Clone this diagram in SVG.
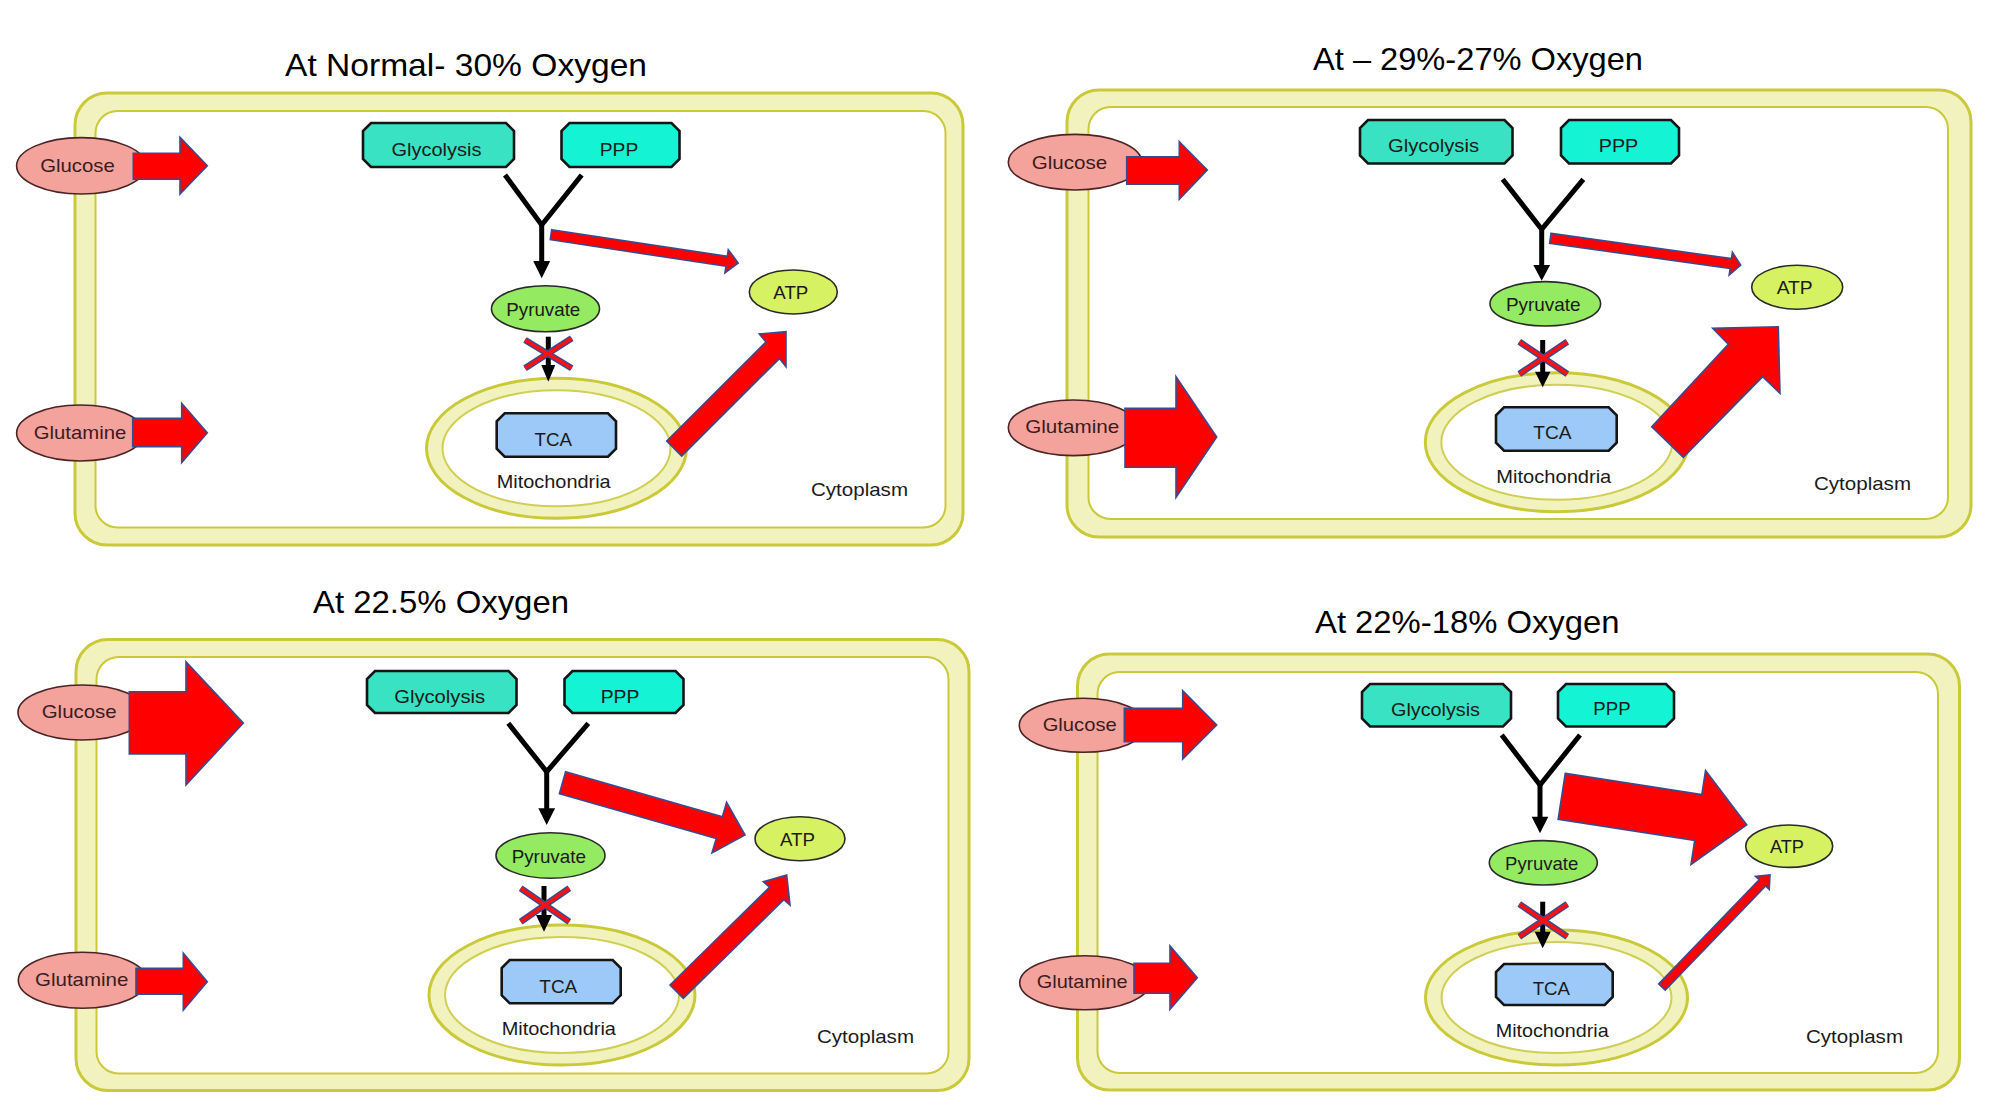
<svg xmlns="http://www.w3.org/2000/svg" width="1999" height="1112" viewBox="0 0 1999 1112">
<style>
.bg{fill:#fff}
.cellO{fill:#f2f2be;stroke:#c9c93a;stroke-width:3}
.cellI{fill:#fff;stroke:#c9c93a;stroke-width:2}
.mitoO{fill:#f2f2be;stroke:#c9c93a;stroke-width:3}
.mitoI{fill:#fff;stroke:#cfcf55;stroke-width:2}
.sub{fill:#f4a29c;stroke:#4a2424;stroke-width:1.6}
.glyc{fill:#38e2c2;stroke:#151515;stroke-width:2.6}
.ppp{fill:#14f3d3;stroke:#151515;stroke-width:2.6}
.tca{fill:#9cc9f7;stroke:#151515;stroke-width:2.6}
.pyr{fill:#94ea60;stroke:#2a2a2a;stroke-width:1.6}
.atp{fill:#d6f262;stroke:#2a2a2a;stroke-width:1.6}
.red{fill:#ff0000;stroke:#3b4a8f;stroke-width:1.6;stroke-linejoin:miter}
.blk{fill:none;stroke:#000;stroke-width:5}
.ah{fill:#000}
.xo{stroke:#3b4a8f;stroke-width:6.5}
.xi{stroke:#ff1010;stroke-width:3.6}
.lbl{font-family:"Liberation Sans",Arial,sans-serif;font-size:18.5px;fill:#1a1a1a;text-anchor:middle}
.sl{font-family:"Liberation Sans",Arial,sans-serif;font-size:18.5px;fill:#3a1c1c;text-anchor:middle}
.cy{font-family:"Liberation Sans",Arial,sans-serif;font-size:18.5px;fill:#1a1a1a}
.title{font-family:"Liberation Sans",Arial,sans-serif;font-size:32px;fill:#000}
</style>
<rect class="bg" x="0" y="0" width="1999" height="1112"/>

<!-- ================= PANEL 1 ================= -->
<g id="panel1">
<text class="title" x="285" y="76" textLength="362" lengthAdjust="spacingAndGlyphs">At Normal- 30% Oxygen</text>
<g id="p1-cell">
<rect class="cellO" x="75" y="93" width="888" height="452" rx="32"/>
<rect class="cellI" x="95.5" y="111" width="850" height="416.5" rx="22"/>
<text class="cy" x="811" y="496" textLength="97" lengthAdjust="spacingAndGlyphs">Cytoplasm</text>
</g>
<g id="p1-mito">
<ellipse class="mitoO" cx="556.5" cy="448.3" rx="130" ry="70"/>
<ellipse class="mitoI" cx="556.5" cy="448.3" rx="114" ry="58"/>
<text class="lbl" x="553.7" y="488.3" textLength="114" lengthAdjust="spacingAndGlyphs">Mitochondria</text>
</g>
<g id="p1-glucose">
<ellipse class="sub" cx="81.3" cy="165.8" rx="64.7" ry="28.2"/>
<text class="sl" x="77.5" y="171.7" textLength="74.5" lengthAdjust="spacingAndGlyphs">Glucose</text>
</g>
<g id="p1-glutamine">
<ellipse class="sub" cx="80.3" cy="433" rx="63.7" ry="28"/>
<text class="sl" x="80" y="439.3" textLength="92.5" lengthAdjust="spacingAndGlyphs">Glutamine</text>
</g>
<g id="p1-glycolysis">
<polygon class="glyc" points="371,123 506,123 514,131 514,159 506,167 371,167 363,159 363,131"/>
<text class="lbl" x="436.5" y="155.5" textLength="90" lengthAdjust="spacingAndGlyphs">Glycolysis</text>
</g>
<g id="p1-ppp">
<polygon class="ppp" points="569.5,123 671.5,123 679.5,131 679.5,159 671.5,167 569.5,167 561.5,159 561.5,131"/>
<text class="lbl" x="619" y="155.5" textLength="38.5" lengthAdjust="spacingAndGlyphs">PPP</text>
</g>
<g id="p1-pyruvate">
<ellipse class="pyr" cx="545.5" cy="308.8" rx="54" ry="23"/>
<text class="lbl" x="543.3" y="316" textLength="74" lengthAdjust="spacingAndGlyphs">Pyruvate</text>
</g>
<g id="p1-atp">
<ellipse class="atp" cx="793.3" cy="292" rx="44" ry="22"/>
<text class="lbl" x="790.8" y="299.3" textLength="35" lengthAdjust="spacingAndGlyphs">ATP</text>
</g>
<g id="p1-tca">
<polygon class="tca" points="504.7,413.3 608,413.3 616,421.3 616,448.7 608,456.7 504.7,456.7 496.7,448.7 496.7,421.3"/>
<text class="lbl" x="553.3" y="446" textLength="37.5" lengthAdjust="spacingAndGlyphs">TCA</text>
</g>
<g id="p1-connectors">
<polygon class="red" points="133.3,153.3 180,153.3 180,137.3 207.3,165.7 180,194 180,179.3 133.3,179.3"/>
<polygon class="red" points="132.7,418.3 181.7,418.3 181.7,403.3 207.3,432.7 181.7,462.7 181.7,446.7 132.7,446.7"/>
<polyline class="blk" points="505,175 541.7,225 581.7,175"/>
<line class="blk" x1="541.7" y1="224" x2="541.7" y2="262"/>
<polygon class="ah" points="533.2,261 550.2,261 541.7,278.3"/>
<polygon class="red" points="551.7,229.7 727.3,256.3 728.3,249.7 738.2,263 724.9,272.9 726,266.3 550.3,239.7"/>
<line class="blk" x1="548.3" y1="336.7" x2="548.3" y2="366"/>
<polygon class="ah" points="541.3,365 555.3,365 548.3,381.7"/>
<g id="p1-block">
<line class="xo" x1="525" y1="340" x2="571.7" y2="368.3"/>
<line class="xo" x1="571.7" y1="338.3" x2="525" y2="368.3"/>
<line class="xi" x1="525" y1="340" x2="571.7" y2="368.3"/>
<line class="xi" x1="571.7" y1="338.3" x2="525" y2="368.3"/>
</g>
<polygon class="red" points="666.7,441 765.9,342.1 759.3,334 786,331.7 786,366.7 779.4,358.6 681.7,456"/>
</g>
</g>

<!-- ================= PANEL 2 ================= -->
<g id="panel2">
<text class="title" x="1313" y="70" textLength="330" lengthAdjust="spacingAndGlyphs">At – 29%-27% Oxygen</text>
<g id="p2-cell">
<rect class="cellO" x="1067" y="90" width="904" height="447" rx="32"/>
<rect class="cellI" x="1088.5" y="107" width="859.5" height="412" rx="22"/>
<text class="cy" x="1814" y="489.5" textLength="97" lengthAdjust="spacingAndGlyphs">Cytoplasm</text>
</g>
<g id="p2-mito">
<ellipse class="mitoO" cx="1556.8" cy="442.2" rx="131.5" ry="69.5"/>
<ellipse class="mitoI" cx="1556.8" cy="442.2" rx="115.5" ry="57.5"/>
<text class="lbl" x="1553.8" y="482.7" textLength="115" lengthAdjust="spacingAndGlyphs">Mitochondria</text>
</g>
<g id="p2-glucose">
<ellipse class="sub" cx="1075" cy="162.2" rx="66.7" ry="27.8"/>
<text class="sl" x="1069.5" y="168.7" textLength="75.5" lengthAdjust="spacingAndGlyphs">Glucose</text>
</g>
<g id="p2-glutamine">
<ellipse class="sub" cx="1073.3" cy="427.8" rx="65" ry="27.8"/>
<text class="sl" x="1072.2" y="433.3" textLength="94" lengthAdjust="spacingAndGlyphs">Glutamine</text>
</g>
<g id="p2-glycolysis">
<polygon class="glyc" points="1368,120 1504.5,120 1512.5,128 1512.5,155.5 1504.5,163.5 1368,163.5 1360,155.5 1360,128"/>
<text class="lbl" x="1433.5" y="151.7" textLength="91" lengthAdjust="spacingAndGlyphs">Glycolysis</text>
</g>
<g id="p2-ppp">
<polygon class="ppp" points="1569,120 1671,120 1679,128 1679,155.5 1671,163.5 1569,163.5 1561,155.5 1561,128"/>
<text class="lbl" x="1618.5" y="151.7" textLength="39.5" lengthAdjust="spacingAndGlyphs">PPP</text>
</g>
<g id="p2-pyruvate">
<ellipse class="pyr" cx="1545.3" cy="303.8" rx="55.3" ry="22.2"/>
<text class="lbl" x="1543.3" y="310.7" textLength="74.7" lengthAdjust="spacingAndGlyphs">Pyruvate</text>
</g>
<g id="p2-atp">
<ellipse class="atp" cx="1797.2" cy="287.2" rx="45.5" ry="22"/>
<text class="lbl" x="1794.7" y="294" textLength="36" lengthAdjust="spacingAndGlyphs">ATP</text>
</g>
<g id="p2-tca">
<polygon class="tca" points="1504,407.3 1608.7,407.3 1616.7,415.3 1616.7,442.7 1608.7,450.7 1504,450.7 1496,442.7 1496,415.3"/>
<text class="lbl" x="1552.5" y="439.3" textLength="38.3" lengthAdjust="spacingAndGlyphs">TCA</text>
</g>
<g id="p2-connectors">
<polygon class="red" points="1126.7,156.7 1179.3,156.7 1179.3,141.7 1207.3,170 1179.3,199.3 1179.3,184.3 1126.7,184.3"/>
<polygon class="red" points="1125,408.3 1176,408.3 1176,376.7 1216.7,437 1176,497.3 1176,467.3 1125,467.3"/>
<polyline class="blk" points="1502.7,179.3 1541.7,229.3 1583.3,179.3"/>
<line class="blk" x1="1541.7" y1="228" x2="1541.7" y2="266"/>
<polygon class="ah" points="1533.3,265 1550.1,265 1541.7,280.7"/>
<polygon class="red" points="1551,233.35 1731.5,258.65 1732.4,252.2 1740.7,265 1729.2,275 1730.1,268.55 1549.6,243.25"/>
<line class="blk" x1="1542.7" y1="340" x2="1542.7" y2="373"/>
<polygon class="ah" points="1535,371.7 1550.4,371.7 1542.7,387.3"/>
<g id="p2-block">
<line class="xo" x1="1519.3" y1="341.7" x2="1567.3" y2="374"/>
<line class="xo" x1="1567.3" y1="341.7" x2="1519.3" y2="374"/>
<line class="xi" x1="1519.3" y1="341.7" x2="1567.3" y2="374"/>
<line class="xi" x1="1567.3" y1="341.7" x2="1519.3" y2="374"/>
</g>
<polygon class="red" points="1651.7,426.7 1728.3,344.3 1712.7,328.3 1778.3,326.7 1780,393.3 1762.7,376.7 1683.3,457.3"/>
</g>
</g>

<!-- ================= PANEL 3 ================= -->
<g id="panel3">
<text class="title" x="313" y="613" textLength="256" lengthAdjust="spacingAndGlyphs">At 22.5% Oxygen</text>
<g id="p3-cell">
<rect class="cellO" x="76" y="639.5" width="893" height="451" rx="32"/>
<rect class="cellI" x="96.5" y="657" width="852" height="416.5" rx="22"/>
<text class="cy" x="817" y="1043" textLength="97" lengthAdjust="spacingAndGlyphs">Cytoplasm</text>
</g>
<g id="p3-mito">
<ellipse class="mitoO" cx="562" cy="995" rx="133" ry="70"/>
<ellipse class="mitoI" cx="562" cy="995" rx="117" ry="58"/>
<text class="lbl" x="558.8" y="1035" textLength="114.3" lengthAdjust="spacingAndGlyphs">Mitochondria</text>
</g>
<g id="p3-glucose">
<ellipse class="sub" cx="82" cy="712.5" rx="64" ry="27.5"/>
<text class="sl" x="79.2" y="718.3" textLength="75" lengthAdjust="spacingAndGlyphs">Glucose</text>
</g>
<g id="p3-glutamine">
<ellipse class="sub" cx="82.5" cy="980.3" rx="64.2" ry="28"/>
<text class="sl" x="81.7" y="986" textLength="93.3" lengthAdjust="spacingAndGlyphs">Glutamine</text>
</g>
<g id="p3-glycolysis">
<polygon class="glyc" points="375,671 508.5,671 516.5,679 516.5,705 508.5,713 375,713 367,705 367,679"/>
<text class="lbl" x="439.7" y="702.7" textLength="91" lengthAdjust="spacingAndGlyphs">Glycolysis</text>
</g>
<g id="p3-ppp">
<polygon class="ppp" points="572.5,671 675.5,671 683.5,679 683.5,705 675.5,713 572.5,713 564.5,705 564.5,679"/>
<text class="lbl" x="620" y="702.7" textLength="38.7" lengthAdjust="spacingAndGlyphs">PPP</text>
</g>
<g id="p3-pyruvate">
<ellipse class="pyr" cx="550.5" cy="855.5" rx="54.5" ry="22.8"/>
<text class="lbl" x="548.8" y="862.7" textLength="74.3" lengthAdjust="spacingAndGlyphs">Pyruvate</text>
</g>
<g id="p3-atp">
<ellipse class="atp" cx="800" cy="838.7" rx="45" ry="22"/>
<text class="lbl" x="797.5" y="846" textLength="35" lengthAdjust="spacingAndGlyphs">ATP</text>
</g>
<g id="p3-tca">
<polygon class="tca" points="509.7,960 612.7,960 620.7,968 620.7,995.3 612.7,1003.3 509.7,1003.3 501.7,995.3 501.7,968"/>
<text class="lbl" x="558.3" y="992.7" textLength="38" lengthAdjust="spacingAndGlyphs">TCA</text>
</g>
<g id="p3-connectors">
<polygon class="red" points="129.3,691.7 186,691.7 186,661.7 243.3,723 186,785 186,754 129.3,754"/>
<polygon class="red" points="136,968.3 183.3,968.3 183.3,953.3 207.3,981.7 183.3,1010 183.3,994.3 136,994.3"/>
<polyline class="blk" points="508.3,723.3 546.7,771.7 588.3,723.3"/>
<line class="blk" x1="546.7" y1="770" x2="546.7" y2="810"/>
<polygon class="ah" points="538.3,808.3 555.1,808.3 546.7,825"/>
<polygon class="red" points="565.6,771.8 722.4,816.7 726.6,802.3 745,835 712,853 716.2,838.6 559.4,793.8"/>
<line class="blk" x1="544" y1="886" x2="544" y2="916"/>
<polygon class="ah" points="536,915 552,915 544,931.7"/>
<g id="p3-block">
<line class="xo" x1="520.7" y1="888.3" x2="569.3" y2="921.7"/>
<line class="xo" x1="569.3" y1="888.3" x2="520.7" y2="921.7"/>
<line class="xi" x1="520.7" y1="888.3" x2="569.3" y2="921.7"/>
<line class="xi" x1="569.3" y1="888.3" x2="520.7" y2="921.7"/>
</g>
<polygon class="red" points="670,985 769.6,887.1 763.3,881.7 786.7,875 790,905 783.8,899.6 683.3,998.3"/>
</g>
</g>

<!-- ================= PANEL 4 ================= -->
<g id="panel4">
<text class="title" x="1315" y="633" textLength="304.5" lengthAdjust="spacingAndGlyphs">At 22%-18% Oxygen</text>
<g id="p4-cell">
<rect class="cellO" x="1077.5" y="654" width="882" height="436" rx="32"/>
<rect class="cellI" x="1097.5" y="672" width="840.5" height="401" rx="22"/>
<text class="cy" x="1806" y="1043" textLength="97" lengthAdjust="spacingAndGlyphs">Cytoplasm</text>
</g>
<g id="p4-mito">
<ellipse class="mitoO" cx="1556.5" cy="997.5" rx="131" ry="67.5"/>
<ellipse class="mitoI" cx="1556.5" cy="997.5" rx="115" ry="55.5"/>
<text class="lbl" x="1552.2" y="1036.7" textLength="113" lengthAdjust="spacingAndGlyphs">Mitochondria</text>
</g>
<g id="p4-glucose">
<ellipse class="sub" cx="1083" cy="725.3" rx="63.7" ry="27"/>
<text class="sl" x="1079.7" y="730.7" textLength="74" lengthAdjust="spacingAndGlyphs">Glucose</text>
</g>
<g id="p4-glutamine">
<ellipse class="sub" cx="1084.7" cy="982.8" rx="65" ry="27"/>
<text class="sl" x="1082.2" y="988.3" textLength="91" lengthAdjust="spacingAndGlyphs">Glutamine</text>
</g>
<g id="p4-glycolysis">
<polygon class="glyc" points="1370,684 1503,684 1511,692 1511,718.5 1503,726.5 1370,726.5 1362,718.5 1362,692"/>
<text class="lbl" x="1435.5" y="715.7" textLength="89" lengthAdjust="spacingAndGlyphs">Glycolysis</text>
</g>
<g id="p4-ppp">
<polygon class="ppp" points="1566,684 1666,684 1674,692 1674,718.5 1666,726.5 1566,726.5 1558,718.5 1558,692"/>
<text class="lbl" x="1612" y="715" textLength="37.3" lengthAdjust="spacingAndGlyphs">PPP</text>
</g>
<g id="p4-pyruvate">
<ellipse class="pyr" cx="1543.3" cy="862.8" rx="54" ry="22.2"/>
<text class="lbl" x="1541.7" y="870" textLength="73.3" lengthAdjust="spacingAndGlyphs">Pyruvate</text>
</g>
<g id="p4-atp">
<ellipse class="atp" cx="1789.2" cy="846.2" rx="43.5" ry="21.2"/>
<text class="lbl" x="1787" y="853.3" textLength="34" lengthAdjust="spacingAndGlyphs">ATP</text>
</g>
<g id="p4-tca">
<polygon class="tca" points="1504,964 1604.7,964 1612.7,972 1612.7,997 1604.7,1005 1504,1005 1496,997 1496,972"/>
<text class="lbl" x="1551.3" y="995" textLength="37.3" lengthAdjust="spacingAndGlyphs">TCA</text>
</g>
<g id="p4-connectors">
<polygon class="red" points="1124.3,708.3 1182.7,708.3 1182.7,690.7 1216.7,725 1182.7,759 1182.7,741.7 1124.3,741.7"/>
<polygon class="red" points="1134,963.3 1170,963.3 1170,946 1197.3,977.7 1170,1009.3 1170,993.3 1134,993.3"/>
<polyline class="blk" points="1501.7,735 1540,785 1580,735"/>
<line class="blk" x1="1540" y1="784" x2="1540" y2="818"/>
<polygon class="ah" points="1531.7,816.7 1548.3,816.7 1540,833.3"/>
<polygon class="red" points="1565.25,773.37 1701.82,794.51 1705.55,770.4 1746.7,824.94 1690.99,864.48 1694.72,840.37 1558.15,819.23"/>
<line class="blk" x1="1542.7" y1="901.7" x2="1542.7" y2="933"/>
<polygon class="ah" points="1534.7,931.7 1550.7,931.7 1542.7,948.3"/>
<g id="p4-block">
<line class="xo" x1="1519.3" y1="904" x2="1567.3" y2="936.7"/>
<line class="xo" x1="1567.3" y1="904" x2="1519.3" y2="936.7"/>
<line class="xi" x1="1519.3" y1="904" x2="1567.3" y2="936.7"/>
<line class="xi" x1="1567.3" y1="904" x2="1519.3" y2="936.7"/>
</g>
<polygon class="red" points="1658.76,983.88 1759.13,879.78 1755.53,876.31 1770,875 1769.21,889.49 1765.61,886.02 1665.24,990.12"/>
</g>
</g>
</svg>
